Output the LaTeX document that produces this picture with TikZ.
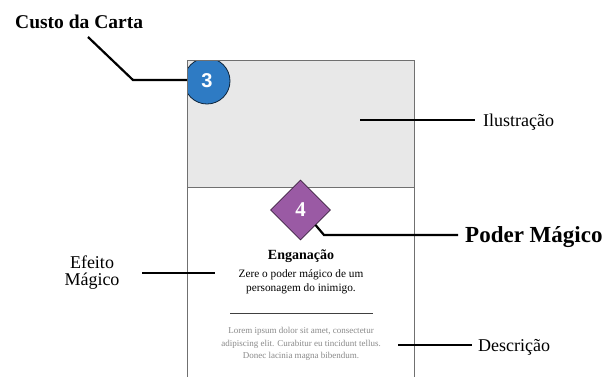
\documentclass[tikz,border=0pt]{standalone}
\usepackage{fontspec}
\setmainfont{Liberation Serif}
\newfontfamily\numfont{Liberation Sans}
\usetikzlibrary{shapes.geometric}
\definecolor{cardgray}{HTML}{E8E8E8}
\definecolor{cardedge}{HTML}{707070}
\definecolor{costblue}{HTML}{2E7BC4}
\definecolor{powerpurple}{HTML}{9A5AA4}
\definecolor{loremgray}{HTML}{8A8A8A}
\begin{document}
\begin{tikzpicture}[x=1pt,y=-1pt,
  leader/.style={line width=2.2pt,black},
  thinleader/.style={line width=1.6pt,black},
  lbl/.style={inner sep=0pt,font=\fontsize{18}{18}\selectfont},
  cardtext/.style={inner sep=0pt,align=center}]
\useasboundingbox (0,0) rectangle (605,376);
\fill[white] (0,0) rectangle (605,376);
% card
\fill[cardgray] (187,60) rectangle (414,187);
\draw[cardedge,line width=0.9pt] (187,187) -- (414,187);
\begin{scope}
\clip (187,60) rectangle (414,400);
\node[circle,fill=costblue,draw=black!70!costblue,line width=0.8pt,minimum size=46pt,inner sep=0pt] (cost) at (207,81) {};
\end{scope}
\node[text=white,font=\numfont\fontsize{20}{20}\selectfont\bfseries] (costnum) at (207,81) {3};
\draw[cardedge,line width=0.9pt] (187,400) -- (187,60) -- (414,60) -- (414,400);
% power diamond
\node[diamond,fill=powerpurple,draw=black!60!powerpurple,line width=0.7pt,minimum width=60pt,minimum height=60pt,inner sep=0pt,text=white,font=\fontsize{21}{21}\selectfont\bfseries] (power) at (300.5,210) {4};
% card texts
\node[cardtext,font=\fontsize{14}{14}\selectfont\bfseries] (title) at (301,256) {Enganação};
\node[cardtext,font=\fontsize{11.3}{14}\selectfont] (effect) at (301,282) {Zere o poder mágico de um\\personagem do inimigo.};
\draw[black!75,line width=0.8pt] (230,313) -- (373,313);
\node[cardtext,text=loremgray,font=\fontsize{9}{12.5}\selectfont] (lorem) at (301,344) {Lorem ipsum dolor sit amet, consectetur\\adipiscing elit. Curabitur eu tincidunt tellus.\\Donec lacinia magna bibendum.};
% labels
\node[inner sep=0pt,anchor=base west,font=\fontsize{19.5}{19.5}\selectfont\bfseries] (costlbl) at (15,28) {Custo da Carta};
\node[inner sep=0pt,anchor=base west,font=\fontsize{23}{23}\selectfont\bfseries] (powerlbl) at (465,242) {Poder Mágico};
\node[lbl,anchor=base west] (illulbl) at (483,126) {Ilustração};
\node[lbl,anchor=base west] (desclbl) at (478,351) {Descrição};
\node[lbl,anchor=base] (efflblA) at (92,268) {Efeito};
\node[lbl,anchor=base] (efflblB) at (92,285) {Mágico};
% leader lines
\coordinate (costA) at (88,37);
\coordinate (costB) at (133,80);
\coordinate (costC) at (187,80);
\draw[leader] (costA) -- (costB) -- (costC);
\coordinate (powA) at (315.5,225);
\coordinate (powB) at (324,235);
\coordinate (powC) at (458,235);
\draw[leader] (powA) -- (powB) -- (powC);
\coordinate (illuA) at (360,120);
\coordinate (illuB) at (475,120);
\draw[thinleader] (illuA) -- (illuB);
\coordinate (descA) at (398,345);
\coordinate (descB) at (472,345);
\draw[thinleader] (descA) -- (descB);
\coordinate (effA) at (142,273);
\coordinate (effB) at (215,273);
\draw[thinleader] (effA) -- (effB);
\end{tikzpicture}
\end{document}
